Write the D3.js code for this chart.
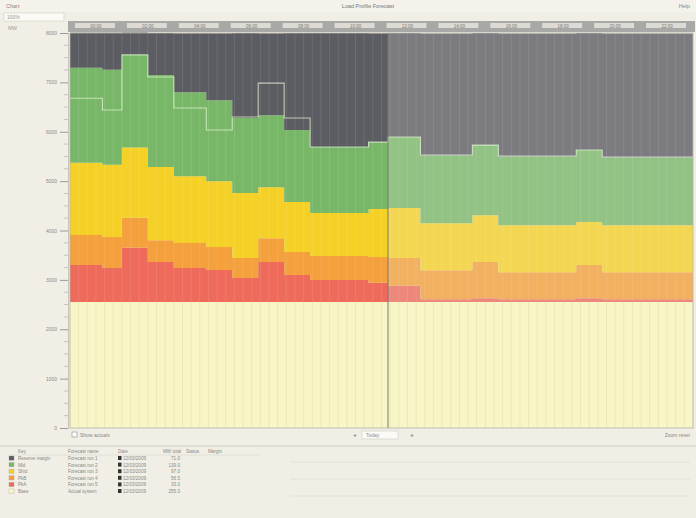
<!DOCTYPE html>
<html><head><meta charset="utf-8">
<script src="https://cdn.jsdelivr.net/npm/d3@7"></script>
<style>
html,body{margin:0;padding:0;background:#f1efe5;}
svg{display:block;font-family:"Liberation Sans","DejaVu Sans",sans-serif;}
</style></head>
<body><svg id="c" width="696" height="518"></svg>
<script>
// ---- data (hours of day where each step starts; stacked MW bands) ----
const stepHours = [0,1.25,2,3,4,5.25,6.25,7.25,8.25,9.25,11.5,12.25,13.5,15.5,16.5,19.5,20.5];
const dayEnd = 24;
const nowHour = 12.25;
const baseLoad = [2550,2550,2550,2550,2550,2550,2550,2550,2550,2550,2550,2550,2550,2550,2550,2550,2550];
const peakA   = [750,690,1100,810,690,650,490,810,550,450,390,330,60,80,60,80,60];
const peakB   = [610,630,610,445,505,465,405,485,465,485,525,565,585,730,545,670,545];
const shoulder= [1460,1460,1420,1480,1355,1335,1315,1030,1010,870,970,1010,950,950,950,870,950];
const midMerit= [1925,1925,1885,1865,1700,1640,1520,1460,1460,1335,1355,1440,1375,1420,1395,1460,1375];
const reserve = [710,750,445,850,1195,1355,1720,1660,1965,2310,2205,2105,2470,2270,2490,2370,2510];
const prevForecast = [6680,6440,7555,7110,6480,6035,6300,6985,6280,5690,5790,5895,5530,5730,5510,5630,5490];
const seriesNames = ["Base load","Peak A","Peak B","Shoulder","Mid merit","Reserve"];
const seriesColors = ["#f8f6c6","#ee6b5b","#f4a03c","#f5d128","#79b768","#5c5c63"];
const yTicks = [0,1000,2000,3000,4000,5000,6000,7000,8000];
const headerLabels = ["00:00","02:00","04:00","06:00","08:00","10:00","12:00","14:00","16:00","18:00","20:00","22:00"];
const legendRows = [
  {key:"Reserve margin", name:"Forecast run 1", date:"12/03/2009", val:"71.0"},
  {key:"Mid", name:"Forecast run 2", date:"12/03/2009", val:"139.0"},
  {key:"Shld", name:"Forecast run 3", date:"12/03/2009", val:"97.0"},
  {key:"PkB", name:"Forecast run 4", date:"12/03/2009", val:"56.5"},
  {key:"PkA", name:"Forecast run 5", date:"12/03/2009", val:"33.0"},
  {key:"Base", name:"Actual system", date:"12/03/2009", val:"255.0"}
];

const svg = d3.select("#c");
const X0=70, X1=693, Y0=33, Y1=428;
const x = d3.scaleLinear().domain([0,dayEnd]).range([X0,X1]);
const y = d3.scaleLinear().domain([0,8000]).range([Y1,Y0]);

// ---- window chrome ----
svg.append("rect").attr("x",0).attr("y",0).attr("width",696).attr("height",12).attr("fill","#f4f2ea");
svg.append("text").attr("x",6).attr("y",8).attr("font-size",5.5).attr("fill","#888").text("Chart");
svg.append("text").attr("x",368).attr("y",8).attr("font-size",5.5).attr("fill","#777").attr("text-anchor","middle").text("Load Profile Forecast");
svg.append("text").attr("x",690).attr("y",8).attr("font-size",5.5).attr("fill","#888").attr("text-anchor","end").text("Help");
svg.append("rect").attr("x",4).attr("y",13).attr("width",60).attr("height",8).attr("fill","#fbfaf5").attr("stroke","#d2d0c6").attr("stroke-width",0.6);
svg.append("text").attr("x",7).attr("y",19).attr("font-size",5).attr("fill","#999").text("100%");
svg.append("text").attr("x",8).attr("y",30).attr("font-size",5).attr("fill","#999").text("MW");

// header bar with time labels
svg.append("rect").attr("x",X0-2).attr("y",21).attr("width",X1-X0+4).attr("height",11).attr("fill","#a8a8a6");
headerLabels.forEach((t,i)=>{
  const a=x(i*2), b=x(i*2+2);
  svg.append("rect").attr("x",a+5).attr("y",23).attr("width",b-a-12).attr("height",5).attr("fill","#dddcd4");
  svg.append("text").attr("x",(a+b)/2).attr("y",27.5).attr("font-size",4.5).attr("fill","#777").attr("text-anchor","middle").text(t);
});

// ---- stacked step areas ----
const rows = stepHours.map((h,i)=>({h, s0:baseLoad[i], s1:peakA[i], s2:peakB[i], s3:shoulder[i], s4:midMerit[i], s5:reserve[i]}));
rows.push(Object.assign({}, rows[rows.length-1], {h:dayEnd}));
const keys=["s0","s1","s2","s3","s4","s5"];
const stack = d3.stack().keys(keys)(rows);
const area = d3.area().curve(d3.curveStepAfter).x(d=>x(d.data.h)).y0(d=>y(d[0])).y1(d=>y(d[1]));
svg.append("g").selectAll("path").data(stack).join("path")
  .attr("d",area).attr("fill",(d,i)=>seriesColors[i]);

// future region lighter
const baseTop = y(baseLoad[0]);
svg.append("rect").attr("x",x(nowHour)).attr("y",Y0).attr("width",X1-x(nowHour)).attr("height",baseTop-Y0)
  .attr("fill","#eeeeea").attr("opacity",0.22);

// column grid lines (20-minute slots): light over bands, darker over base
const slots = d3.range(1/3, dayEnd, 1/3);
svg.append("g").selectAll("line").data(slots).join("line")
  .attr("x1",d=>x(d)).attr("x2",d=>x(d)).attr("y1",Y0).attr("y2",baseTop)
  .attr("stroke","#ffffff").attr("stroke-opacity",0.13).attr("stroke-width",0.8);
svg.append("g").selectAll("line").data(slots).join("line")
  .attr("x1",d=>x(d)).attr("x2",d=>x(d)).attr("y1",baseTop).attr("y2",Y1)
  .attr("stroke","#8a8240").attr("stroke-opacity",0.13).attr("stroke-width",0.8);

// previous forecast line
const pf = stepHours.map((h,i)=>({h, v:prevForecast[i]}));
pf.push({h:dayEnd, v:prevForecast[prevForecast.length-1]});
svg.append("path").datum(pf)
  .attr("d", d3.line().curve(d3.curveStepAfter).x(d=>x(d.h)).y(d=>y(d.v)))
  .attr("fill","none").attr("stroke","#dff3d2").attr("stroke-width",1.1).attr("stroke-opacity",0.75);

// now divider
svg.append("line").attr("x1",x(nowHour)).attr("x2",x(nowHour)).attr("y1",Y0).attr("y2",Y1)
  .attr("stroke","#7a7a72").attr("stroke-width",1);

// plot frame
svg.append("rect").attr("x",X0).attr("y",Y0).attr("width",X1-X0).attr("height",Y1-Y0)
  .attr("fill","none").attr("stroke","#b4b2a8").attr("stroke-width",0.8);

// ---- y axis ----
const yAxis = d3.axisLeft(y).tickValues(yTicks).tickSize(8).tickFormat(d3.format("d"));
const ga = svg.append("g").attr("transform",`translate(${X0-2},0)`).call(yAxis);
ga.select(".domain").attr("stroke","#c8c6bc");
ga.selectAll(".tick line").attr("stroke","#999");
ga.selectAll(".tick text").attr("font-size",5).attr("fill","#8a8a8a");
const minor = d3.range(250,8000,250).filter(v=>v%1000!==0);
svg.append("g").selectAll("line").data(minor).join("line")
  .attr("x1",X0-6).attr("x2",X0-2).attr("y1",d=>y(d)).attr("y2",d=>y(d)).attr("stroke","#b0b0b0").attr("stroke-width",0.7);

// ---- bottom controls ----
svg.append("rect").attr("x",72).attr("y",432).attr("width",5).attr("height",5).attr("fill","#fff").attr("stroke","#888").attr("stroke-width",0.6);
svg.append("text").attr("x",80).attr("y",437).attr("font-size",5).attr("fill","#888").text("Show actuals");
svg.append("text").attr("x",352).attr("y",437).attr("font-size",5).attr("fill","#999").text("◄");
svg.append("rect").attr("x",362).attr("y",431).attr("width",36).attr("height",8).attr("fill","#fbfaf6").attr("stroke","#cfcdc3").attr("stroke-width",0.6);
svg.append("text").attr("x",366).attr("y",437).attr("font-size",5).attr("fill","#8a8aa0").text("Today");
svg.append("text").attr("x",410).attr("y",437).attr("font-size",5).attr("fill","#999").text("►");
svg.append("text").attr("x",690).attr("y",437).attr("font-size",5).attr("fill","#888").attr("text-anchor","end").text("Zoom reset");
svg.append("line").attr("x1",0).attr("x2",696).attr("y1",446).attr("y2",446).attr("stroke","#cfcdc3");

// ---- legend table ----
const cols=[{x:18,t:"Key"},{x:68,t:"Forecast name"},{x:118,t:"Date"},{x:163,t:"MW total"},{x:186,t:"Status"},{x:208,t:"Margin"}];
cols.forEach(c=>svg.append("text").attr("x",c.x).attr("y",453).attr("font-size",4.6).attr("fill","#888").text(c.t));
svg.append("line").attr("x1",8).attr("x2",260).attr("y1",455).attr("y2",455).attr("stroke","#d8d6cc").attr("stroke-width",0.6);
const legColors = [seriesColors[5],seriesColors[4],seriesColors[3],seriesColors[2],seriesColors[1],seriesColors[0]];
legendRows.forEach((r,i)=>{
  const yy = 460 + i*6.6;
  svg.append("rect").attr("x",9).attr("y",yy-4).attr("width",5).attr("height",4.2).attr("fill",legColors[i]).attr("stroke","#999").attr("stroke-width",0.3);
  svg.append("text").attr("x",18).attr("y",yy).attr("font-size",4.6).attr("fill","#888").text(r.key);
  svg.append("text").attr("x",68).attr("y",yy).attr("font-size",4.6).attr("fill","#888").text(r.name);
  svg.append("rect").attr("x",118).attr("y",yy-4).attr("width",3.5).attr("height",4).attr("fill","#333");
  svg.append("text").attr("x",123).attr("y",yy).attr("font-size",4.6).attr("fill","#888").text(r.date);
  svg.append("text").attr("x",180).attr("y",yy).attr("font-size",4.6).attr("fill","#888").attr("text-anchor","end").text(r.val);
});
[462,479,496].forEach(v=>svg.append("line").attr("x1",290).attr("x2",690).attr("y1",v).attr("y2",v).attr("stroke","#e2e0d6").attr("stroke-width",0.8));
</script></body></html>
